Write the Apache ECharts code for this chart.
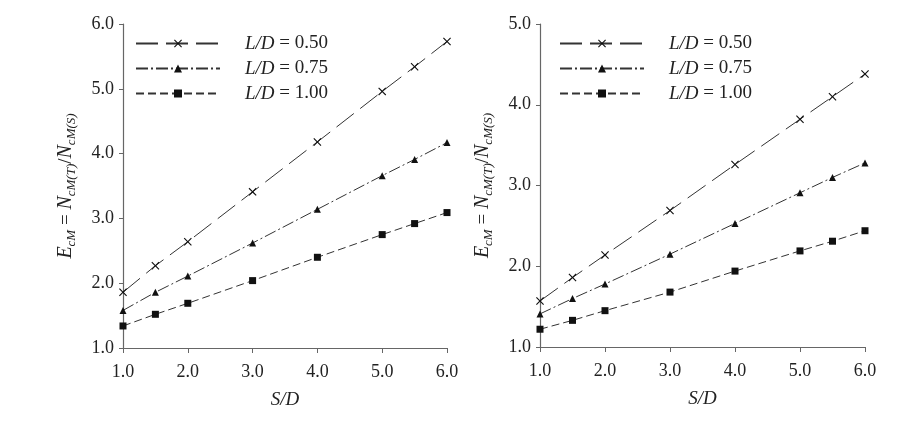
<!DOCTYPE html>
<html>
<head>
<meta charset="utf-8">
<script src="https://cdn.jsdelivr.net/npm/echarts@6/dist/echarts.min.js"></script>
<style>
  html, body { margin: 0; padding: 0; background: #fff; }
  #main { width: 913px; height: 430px; }
</style>
</head>
<body>
<div id="main"></div>
<script>
// S/D values
const sd = [1.0, 1.5, 2.0, 3.0, 4.0, 5.0, 5.5, 6.0];
const ldLabels = ['0.50', '0.75', '1.00'];

// left panel
const leftLd050 = [1.86, 2.27, 2.64, 3.41, 4.18, 4.96, 5.34, 5.73];
const leftLd075 = [1.58, 1.86, 2.11, 2.62, 3.14, 3.66, 3.91, 4.17];
const leftLd100 = [1.34, 1.52, 1.69, 2.04, 2.40, 2.75, 2.92, 3.09];

// right panel
const rightLd050 = [1.57, 1.86, 2.14, 2.69, 3.26, 3.82, 4.10, 4.38];
const rightLd075 = [1.41, 1.60, 1.78, 2.15, 2.53, 2.91, 3.10, 3.28];
const rightLd100 = [1.22, 1.33, 1.45, 1.68, 1.94, 2.19, 2.31, 2.44];

const font = 'Liberation Serif';
const ink = '#222';
const axisGray = '#666';

// x 形标记
const crossPath = 'path://M0,1 L1,0 L5,4 L9,0 L10,1 L6,5 L10,9 L9,10 L5,6 L1,10 L0,9 L4,5 Z';
const symbols = [crossPath, 'triangle', 'rect'];
const dashes = [[22, 8], [12, 3, 2, 3], [8, 4]];

function pairs(vals) {
    return sd.map((x, i) => [x, vals[i]]);
}

function makeSeries(prefix, sets, gridIndex) {
    return sets.map((vals, k) => ({
        name: prefix + ldLabels[k],
        type: 'line',
        xAxisIndex: gridIndex,
        yAxisIndex: gridIndex,
        data: pairs(vals),
        symbol: symbols[k],
        symbolSize: k === 0 ? 8 : 7,
        itemStyle: { color: '#111' },
        lineStyle: { color: '#333', width: 1, type: dashes[k] },
        animation: false,
    }));
}

function xAxisOpt(gridIndex) {
    return {
        type: 'value',
        gridIndex: gridIndex,
        min: 1, max: 6, interval: 1,
        name: 'S/D',
        nameLocation: 'middle',
        nameGap: 42,
        nameTextStyle: { fontFamily: font, fontSize: 19, fontStyle: 'italic', color: ink },
        axisLine: { lineStyle: { color: axisGray, width: 1.2 } },
        axisTick: { show: true, length: 5, lineStyle: { color: axisGray } },
        axisLabel: { fontFamily: font, fontSize: 18, color: ink, margin: 15, formatter: v => v.toFixed(1) },
        splitLine: { show: false },
    };
}

function yAxisOpt(gridIndex, max) {
    return {
        type: 'value',
        gridIndex: gridIndex,
        min: 1, max: max, interval: 1,
        name: '{i|E}{s|cM} = {i|N}{s|cM(T)}/{i|N}{s|cM(S)}',
        nameLocation: 'middle',
        nameRotate: 90,
        nameGap: 46,
        nameTextStyle: {
            fontFamily: font, fontSize: 19, color: ink,
            rich: {
                i: { fontFamily: font, fontSize: 20, fontStyle: 'italic', color: ink, lineHeight: 22 },
                s: { fontFamily: font, fontSize: 13, fontStyle: 'italic', color: ink, lineHeight: 14, verticalAlign: 'top', padding: [10, 0, 0, 0] },
            },
        },
        axisLine: { show: true, lineStyle: { color: axisGray, width: 1.2 } },
        axisTick: { show: true, length: 4, lineStyle: { color: axisGray } },
        axisLabel: { fontFamily: font, fontSize: 18, color: ink, margin: 9, formatter: v => v.toFixed(1) },
        splitLine: { show: false },
    };
}

function legendOpt(prefix, left) {
    return {
        left: left, top: 29,
        orient: 'vertical',
        itemWidth: 84, itemHeight: 10, itemGap: 6,
        data: ldLabels.map(l => prefix + l),
        formatter: name => '{i|L/D} = ' + name.slice(prefix.length),
        textStyle: {
            fontFamily: font, fontSize: 19, color: ink, padding: [0, 0, 0, 20],
            rich: { i: { fontFamily: font, fontSize: 19, fontStyle: 'italic', color: ink } },
        },
        selectedMode: false,
    };
}

const option = {
    backgroundColor: '#fff',
    animation: false,
    grid: [
        { left: 123, right: 466, top: 24, bottom: 82 },
        { left: 540, right: 48, top: 24, bottom: 83 },
    ],
    xAxis: [xAxisOpt(0), xAxisOpt(1)],
    yAxis: [yAxisOpt(0, 6), yAxisOpt(1, 5)],
    legend: [legendOpt('A', 130), legendOpt('B', 554)],
    series: [
        ...makeSeries('A', [leftLd050, leftLd075, leftLd100], 0),
        ...makeSeries('B', [rightLd050, rightLd075, rightLd100], 1),
    ],
};

const chart = echarts.init(document.getElementById('main'));
chart.setOption(option);
</script>
</body>
</html>
